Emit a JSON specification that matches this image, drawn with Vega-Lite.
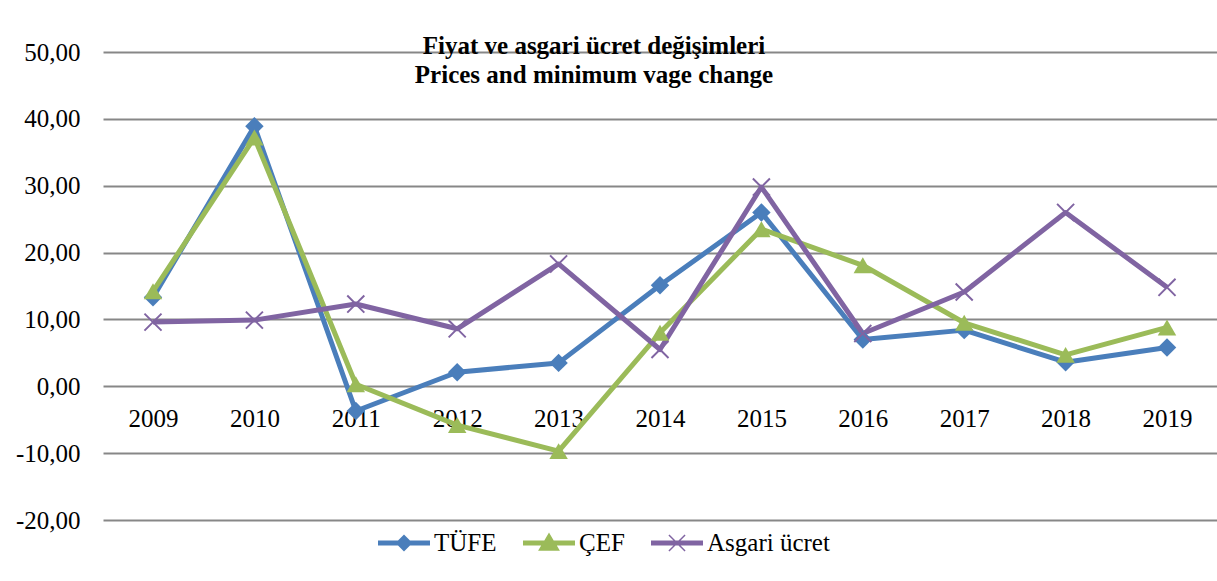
{
  "$schema": "https://vega.github.io/schema/vega-lite/v6.json",
  "autosize": "none",
  "width": 1114,
  "height": 468,
  "padding": {"left": 103, "top": 52, "right": 0, "bottom": 61},
  "background": "white",
  "config": {"view": {"stroke": null}, "font": "Liberation Serif"},
  "title": {
    "text": ["Fiyat ve asgari ücret değişimleri", "Prices and minimum vage change"],
    "orient": "top", "anchor": "middle", "frame": "group",
    "font": "Liberation Serif", "fontSize": 25, "fontWeight": "bold", "color": "black",
    "lineHeight": 29, "dx": -66, "dy": 52
  },
  "data": {"values": [
    {"year": "2009", "series": "TÜFE", "value": 13.3},
    {"year": "2010", "series": "TÜFE", "value": 38.9},
    {"year": "2011", "series": "TÜFE", "value": -3.7},
    {"year": "2012", "series": "TÜFE", "value": 2.1},
    {"year": "2013", "series": "TÜFE", "value": 3.5},
    {"year": "2014", "series": "TÜFE", "value": 15.1},
    {"year": "2015", "series": "TÜFE", "value": 26.0},
    {"year": "2016", "series": "TÜFE", "value": 7.0},
    {"year": "2017", "series": "TÜFE", "value": 8.4},
    {"year": "2018", "series": "TÜFE", "value": 3.6},
    {"year": "2019", "series": "TÜFE", "value": 5.8},
    {"year": "2009", "series": "ÇEF", "value": 14.2},
    {"year": "2010", "series": "ÇEF", "value": 37.2},
    {"year": "2011", "series": "ÇEF", "value": 0.3},
    {"year": "2012", "series": "ÇEF", "value": -5.8},
    {"year": "2013", "series": "ÇEF", "value": -9.7},
    {"year": "2014", "series": "ÇEF", "value": 8.0},
    {"year": "2015", "series": "ÇEF", "value": 23.5},
    {"year": "2016", "series": "ÇEF", "value": 18.1},
    {"year": "2017", "series": "ÇEF", "value": 9.5},
    {"year": "2018", "series": "ÇEF", "value": 4.7},
    {"year": "2019", "series": "ÇEF", "value": 8.8},
    {"year": "2009", "series": "Asgari ücret", "value": 9.6},
    {"year": "2010", "series": "Asgari ücret", "value": 9.9},
    {"year": "2011", "series": "Asgari ücret", "value": 12.3},
    {"year": "2012", "series": "Asgari ücret", "value": 8.6},
    {"year": "2013", "series": "Asgari ücret", "value": 18.3},
    {"year": "2014", "series": "Asgari ücret", "value": 5.5},
    {"year": "2015", "series": "Asgari ücret", "value": 29.8},
    {"year": "2016", "series": "Asgari ücret", "value": 7.9},
    {"year": "2017", "series": "Asgari ücret", "value": 14.1},
    {"year": "2018", "series": "Asgari ücret", "value": 26.0},
    {"year": "2019", "series": "Asgari ücret", "value": 14.8}
  ]},
  "encoding": {
    "x": {
      "field": "year", "type": "ordinal",
      "scale": {"type": "point", "padding": 0.493},
      "axis": {
        "title": null, "orient": "bottom", "offset": -134, "domain": false, "ticks": false,
        "grid": false, "labelAngle": 0, "labelFont": "Liberation Serif", "labelFontSize": 25,
        "labelColor": "black", "labelPadding": 20
      }
    },
    "y": {
      "field": "value", "type": "quantitative",
      "scale": {"domain": [-20, 50], "nice": false, "zero": false},
      "axis": {
        "title": null, "values": [-20, -10, 0, 10, 20, 30, 40, 50],
        "domain": false, "ticks": false, "grid": true, "gridColor": "#878787", "gridWidth": 2,
        "labelFont": "Liberation Serif", "labelFontSize": 25, "labelColor": "black", "labelPadding": 23,
        "labelExpr": "replace(replace(format(datum.value, '.2f'), '.', ','), '−', '-')"
      }
    }
  },
  "resolve": {"scale": {"color": "independent", "shape": "independent"}, "legend": {"color": "independent", "shape": "independent"}},
  "layer": [
    {
      "mark": {"type": "line", "strokeWidth": 5, "strokeJoin": "round"},
      "encoding": {
        "color": {
          "field": "series", "type": "nominal",
          "scale": {"domain": ["TÜFE", "ÇEF", "Asgari ücret"], "range": ["#4a7ebb", "#9bbb59", "#8064a2"]},
          "legend": null
        }
      }
    },
    {
      "mark": {"type": "point", "filled": true, "opacity": 1, "size": 340},
      "encoding": {
        "color": {
          "field": "series", "type": "nominal",
          "scale": {"domain": ["TÜFE", "ÇEF", "Asgari ücret"], "range": ["#4a7ebb", "#9bbb59", "#8064a2"]},
          "legend": null
        },
        "shape": {
          "field": "series", "type": "nominal",
          "scale": {"domain": ["TÜFE", "ÇEF", "Asgari ücret"], "range": ["diamond", "triangle-up", "M-1,-0.85L-0.85,-1L1,0.85L0.85,1Z M0.85,-1L1,-0.85L-0.85,1L-1,0.85Z"]},
          "legend": null
        }
      }
    },
    {
      "transform": [{"filter": "false"}],
      "mark": {"type": "point", "filled": true, "opacity": 1, "size": 2704},
      "encoding": {
        "color": {
          "field": "series", "type": "nominal",
          "scale": {"domain": ["TÜFE", "ÇEF", "Asgari ücret"], "range": ["#4a7ebb", "#9bbb59", "#8064a2"]},
          "legend": {
            "title": null, "orient": "none", "legendX": 275, "legendY": 465, "direction": "horizontal",
            "padding": 0, "symbolSize": 2704, "labelOffset": 4, "columnPadding": 26,
            "labelFont": "Liberation Serif", "labelFontSize": 25, "labelColor": "black",
            "symbolStrokeWidth": 0, "symbolOpacity": 1
          }
        },
        "shape": {
          "field": "series", "type": "nominal",
          "scale": {"domain": ["TÜFE", "ÇEF", "Asgari ücret"], "range": [
            "M-1,-0.1L-0.23,-0.1L0,-0.33L0.23,-0.1L1,-0.1L1,0.1L0.23,0.1L0,0.33L-0.23,0.1L-1,0.1Z",
            "M-1,-0.1L-0.18,-0.1L0,-0.4L0.18,-0.1L1,-0.1L1,0.1L0.3,0.1L0.42,0.3L-0.42,0.3L-0.3,0.1L-1,0.1Z",
            "M-1,-0.1H1V0.1H-1Z M-0.33,-0.29L-0.29,-0.33L0.33,0.29L0.29,0.33Z M0.29,-0.33L0.33,-0.29L-0.29,0.33L-0.33,0.29Z"
          ]},
          "legend": {
            "title": null, "orient": "none", "legendX": 275, "legendY": 465, "direction": "horizontal",
            "padding": 0, "symbolSize": 2704, "labelOffset": 4, "columnPadding": 26,
            "labelFont": "Liberation Serif", "labelFontSize": 25, "labelColor": "black",
            "symbolStrokeWidth": 0, "symbolOpacity": 1
          }
        }
      }
    }
  ]
}
